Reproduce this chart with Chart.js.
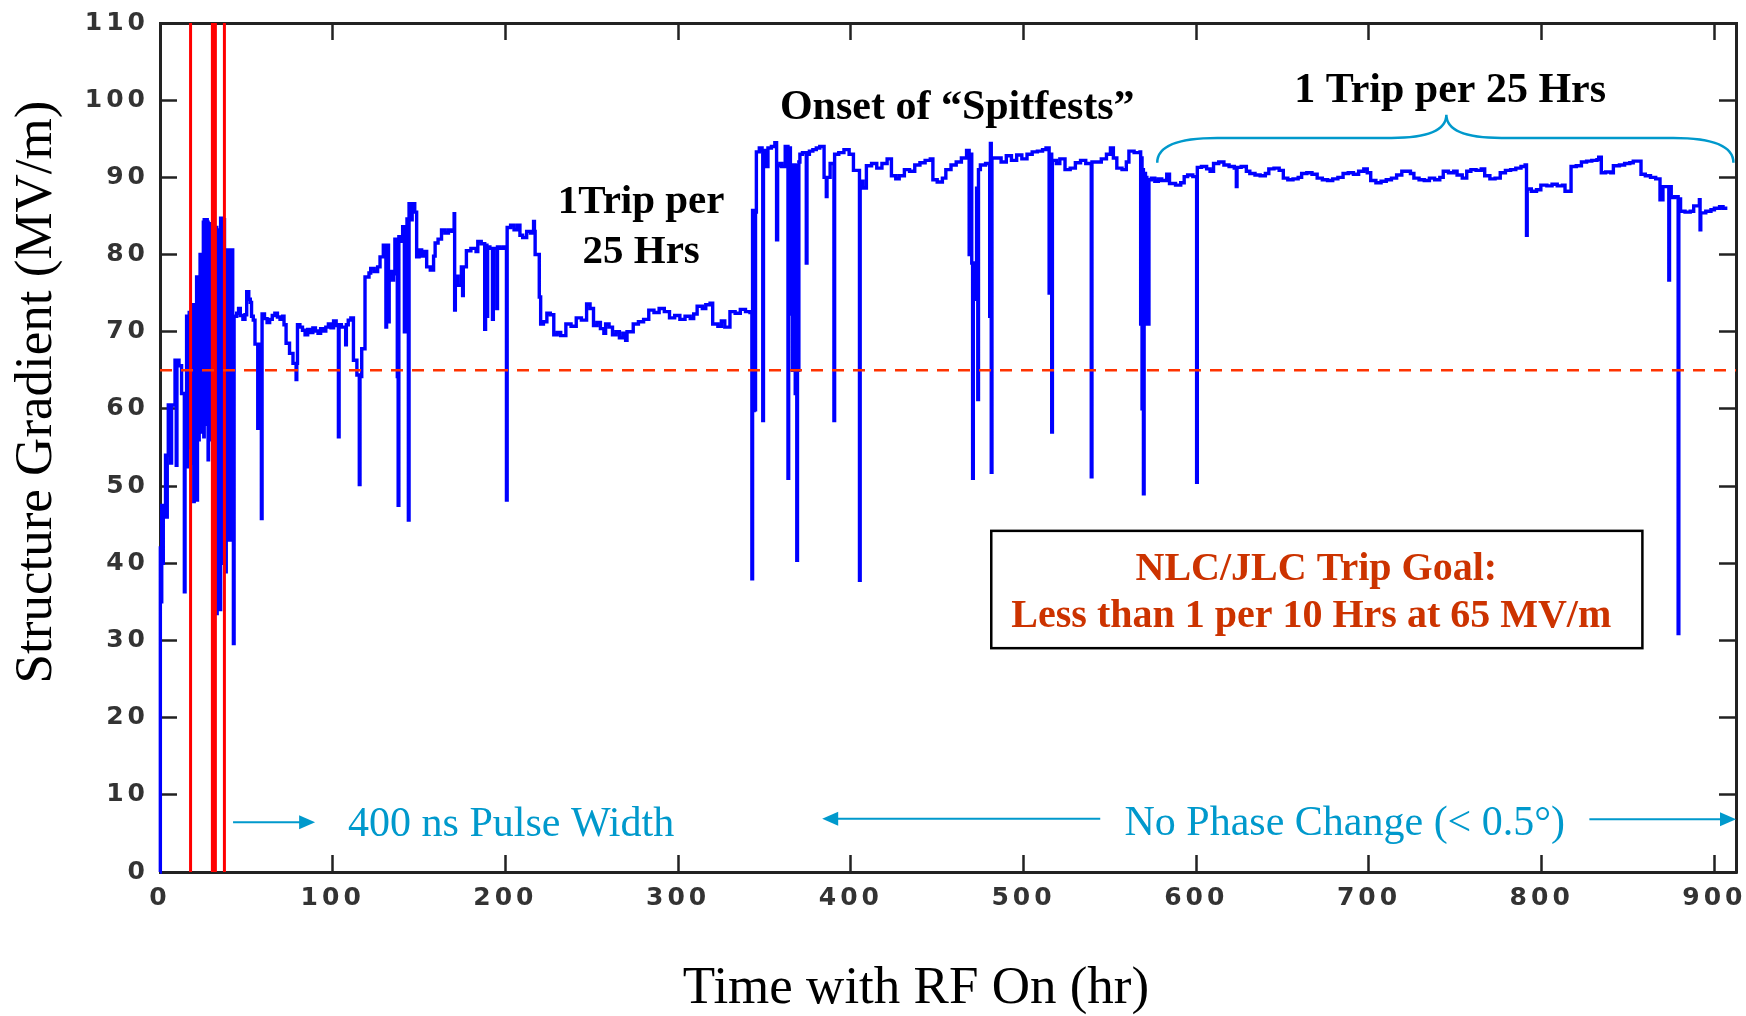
<!DOCTYPE html>
<html>
<head>
<meta charset="utf-8">
<script src="https://cdn.jsdelivr.net/npm/chart.js@4.4.0/dist/chart.umd.min.js"></script>
<style>
  html, body { margin: 0; padding: 0; background: #fff; }
</style>
</head>
<body>
<canvas id="gradChart" width="1746" height="1016"></canvas>
<script>
// axis ranges and ticks
const xTicks = [0, 100, 200, 300, 400, 500, 600, 700, 800, 900];
const yTicks = [0, 10, 20, 30, 40, 50, 60, 70, 80, 90, 100, 110];
const xMax = 912.5;
const yMax = 110;

// goal gradient (MV/m) and the hours where the red markers sit
const goalGradient = 65;
const markerHours = [17.7, 31.2, 37.3];

// [hours with RF on, structure gradient MV/m], sample-and-hold trace
const gradientTrace = [
  [0, 0], [0.2, 42], [0.6, 35], [1.0, 47.5], [1.5, 40], [1.9, 47], [2.8, 46.5],
  [3.2, 54], [3.8, 46], [4.2, 54],
  [4.8, 60.5], [6.2, 53], [6.7, 60.5],
  [8.7, 66.3], [9.4, 52.7], [9.8, 66.3], [11, 65.6],
  [12.5, 62], [14.1, 36.3], [14.5, 62],
  [15.4, 72], [15.65, 52.5], [15.9, 72], [16.15, 60], [16.4, 72], [16.65, 55], [16.9, 72.5],
  [17.15, 58], [17.4, 72.5], [17.65, 62], [17.9, 72.5], [18.15, 57],
  [18.3, 73.5], [18.55, 53], [18.8, 73.5], [19.05, 60], [19.3, 73.5], [19.55, 48], [19.8, 73.5],
  [20.05, 58], [20.3, 73.5], [20.55, 55], [20.8, 73.5],
  [21.2, 77.1], [21.45, 48.2], [21.7, 77.1], [21.95, 60], [22.2, 77.1], [22.45, 56], [22.7, 77.1],
  [23.2, 80], [23.45, 57], [23.7, 80], [23.95, 62], [24.2, 80], [24.45, 58], [24.7, 80],
  [25.1, 84.2], [25.35, 56.4], [25.6, 84.5], [25.85, 65], [26.1, 84.5], [26.35, 71], [26.6, 84.5],
  [26.85, 58], [27.1, 84.5], [27.35, 62], [27.6, 84.2], [27.85, 53.4], [28.1, 84], [28.35, 71],
  [28.6, 84], [28.85, 60], [29.1, 84],
  [29.35, 56], [29.6, 83.2], [29.85, 64], [30.1, 83.2], [30.35, 71], [30.6, 83.2], [30.85, 58],
  [31.1, 83.2], [31.35, 53.5], [31.6, 83.2], [31.85, 62], [32.1, 83.2], [32.35, 57],
  [32.6, 83.5], [32.85, 33.5], [33.1, 83.2], [33.35, 45], [33.6, 83.2], [33.85, 34], [34.1, 83.2],
  [34.35, 50], [34.6, 83.2], [34.85, 34], [35.1, 84.7], [35.35, 40], [35.6, 84.7], [35.85, 55],
  [36.1, 84.7], [36.35, 43], [36.6, 84.5], [36.85, 60], [37.1, 84.5],
  [37.35, 79.3], [37.6, 50], [37.85, 79.3], [38.1, 38.9], [38.35, 79.3], [38.6, 60], [38.85, 80.6],
  [39.1, 45], [39.35, 80.6], [39.6, 65], [39.85, 80.6], [40.1, 43], [40.35, 80.6], [40.6, 60],
  [40.85, 80.6], [41.1, 71], [41.35, 80.6], [41.6, 50], [41.85, 80.6], [42.1, 43], [42.5, 29.6], [42.9, 72],
  [44.4, 72.4], [45.5, 73], [46.5, 72.1], [48, 71.6], [49.2, 72.2],
  [50.2, 75.2], [51.4, 74.2], [52.3, 73.8], [53, 72], [54, 71.5],
  [55, 68.4], [56.6, 57.5], [57, 68.4], [58.7, 45.8], [59.1, 72.3],
  [60.5, 71.7], [62, 71.2], [63.5, 71.6], [65, 72.1], [66.5, 72.4], [68, 71.9], [69.5, 71.6], [71, 72],
  [71.8, 70.9], [73, 68.5], [75, 67.2], [77, 65.9], [78.8, 63.8], [79.2, 65.9], [79.6, 70.9],
  [81, 70.6], [82.5, 70.2], [84, 69.6], [85.5, 70.3], [87, 69.9], [88.5, 70.5], [90, 70.1],
  [91.5, 69.8], [93, 70.4], [94.5, 70.1], [96, 70.6], [97.5, 71], [99, 70.5], [100.5, 71.4], [102, 70.8],
  [103.3, 56.4], [103.7, 70.9], [105, 70.6], [107.5, 68.3], [107.9, 70.9], [109, 71.5], [110.5, 71.8],
  [112, 66.3], [114, 64.4], [115.4, 50.2], [115.8, 64.2], [116.8, 67.8],
  [118.7, 77.1], [121, 77.6], [122, 78.2], [124, 77.8], [126, 78.4], [127.4, 79.7], [129.3, 81.2],
  [130.8, 70.6], [131.2, 81.2], [132.3, 71.3], [132.7, 77.8], [134.2, 76.7], [135.2, 77.5],
  [136, 82], [137.4, 64.2], [137.9, 47.5], [138.3, 82.3], [139.5, 81.7],
  [140.5, 83.6], [141.5, 70], [141.9, 83.6], [143, 84.6], [143.8, 45.6], [144.2, 86.6], [145.5, 84.5],
  [146, 86.6], [147.5, 85.5],
  [148.6, 79.7], [150, 80.6], [151.5, 79.8], [153, 80.4], [154.4, 78.4], [156.5, 78],
  [158.4, 79.8], [159.3, 81.5], [161, 82], [163, 83.2], [165, 82.8], [167, 83.2], [169, 83],
  [170.3, 85.3], [170.6, 72.8], [171, 77.2], [172.5, 76], [174.5, 78.4], [175.2, 74.7], [175.6, 78.4],
  [177.4, 80.5], [180, 80.8], [183, 80.4], [184, 81.7], [186, 81.4],
  [188, 70.3], [188.5, 81.2], [189.3, 72], [189.7, 81], [191, 80.8], [192.5, 71.6], [193, 80.8],
  [195, 73], [195.4, 81], [197, 80.8], [199, 81],
  [200.6, 48.2], [201, 83.5], [203, 83.8], [205, 83.2], [207, 83.8],
  [208.4, 82.5], [210, 82.2], [212.3, 83], [214.5, 82.8], [216.3, 84.3], [216.8, 83],
  [217.2, 80], [219.6, 74.5], [220.4, 71], [222, 71.3], [224, 72.4], [226, 72.2],
  [228, 69.6], [230, 69.9], [232, 69.5], [235, 71], [238, 70.7], [241, 71.8], [244, 71.5],
  [247, 73.6], [249, 73], [251, 70.8], [253, 71.2], [255, 70.4], [257, 69.8], [258, 71], [260, 70.6],
  [262, 69.6], [264, 70], [266, 69.2], [268, 69.8], [269.6, 68.9], [270.4, 70],
  [274, 71], [277, 71.3], [280, 71.6], [283, 72.8], [286, 72.5], [289, 73], [292, 72.6],
  [295, 71.8], [298, 72.1], [301, 71.6], [304, 72], [307, 71.7], [309, 72.3],
  [311, 73.3], [314, 73], [316, 73.5], [318.5, 73.7], [320, 71], [323, 70.7], [325, 71.4], [327, 70.6],
  [330, 72.6], [333, 72.4], [336, 72.9], [339, 72.6], [341.6, 72.5],
  [342.7, 38], [343.1, 85.7], [343.6, 59.8], [344, 76.7], [344.4, 59.9], [344.8, 85.5],
  [345.3, 93.3], [347, 93.8], [348.6, 93.5], [349, 58.5], [349.4, 93.5], [350.5, 91.4], [352, 93.8],
  [354, 94], [356, 94.5], [357, 81.9], [357.6, 91.5], [359, 91.8], [360, 91.4],
  [362, 94], [363.6, 51], [364, 93.8], [365, 85], [365.4, 72.3], [365.8, 91.6], [366.2, 65],
  [366.6, 91], [367, 72], [367.4, 91.6], [367.8, 62], [368.2, 91.5], [368.7, 40.4], [369.1, 91.5],
  [369.5, 65], [369.9, 92], [370.5, 93], [372, 93.2], [374.2, 78.9], [374.6, 93], [376, 93.4],
  [378, 93.6], [380, 93.8], [382, 94], [384.5, 90], [385.8, 87.5], [386.2, 90], [388, 91.8],
  [390.2, 58.5], [390.6, 93], [393, 93.2], [396, 93.6], [399, 93], [401.5, 90.9],
  [405, 37.8], [405.4, 89.5], [407, 88.6], [409, 91.5], [412, 91.8], [415, 91.2], [418, 91.8],
  [421, 92.4], [423.5, 90.2], [426, 89.8], [428, 90.2], [431, 91], [434, 90.8], [437, 91.6],
  [440, 91.9], [443, 92.2], [446, 92.4], [447.5, 89.7], [450, 89.4], [453, 89.9], [455, 91],
  [458, 91.6], [461, 92], [464, 92.5], [467, 93.5], [468.5, 80], [469.3, 93], [470, 78.9],
  [470.5, 51], [470.9, 74.2], [471.3, 78.9], [471.7, 74.2], [472.1, 78.9], [472.8, 88.6],
  [473.5, 61.2], [473.9, 91], [475, 91.6], [478, 91.8], [480.4, 72], [480.8, 94.4], [481.3, 51.8],
  [481.7, 92.5], [484, 92.5], [487, 92], [490, 92.8], [493, 92.2], [496, 92.9], [499, 92.4],
  [502, 93], [505, 93.3], [508, 93.4], [511, 93.6], [513, 93.8], [514.8, 75], [515.2, 93],
  [516.3, 57], [516.7, 92.2], [519, 91.8], [521, 92.4], [524, 91], [527, 91.2], [530, 91.9],
  [533, 92.2], [536, 91.8], [539.2, 51.2], [539.6, 92], [542, 92], [545, 92.4], [548, 93],
  [550.3, 93.8], [552, 92.5], [554, 91.2], [557, 91], [559.5, 92], [561, 93.4], [564, 93.2],
  [567.4, 93.3], [567.8, 71], [568.2, 92.5], [568.6, 60], [569, 91], [569.4, 49], [569.8, 71],
  [570.2, 90.5], [570.6, 71], [571, 90], [571.4, 71.5], [571.8, 89.7], [572.2, 71], [572.6, 89.7],
  [574, 89.9], [576, 89.5], [578, 89.8], [580, 89.6], [582.9, 90.4], [584.5, 89.2], [588, 89],
  [591, 89.3], [593, 90.1], [595, 90.3], [598, 90.1], [600.2, 50.5], [600.6, 91.3], [603, 91.4],
  [606, 91.1], [608, 90.8], [610, 91.8], [613, 92], [616, 91.6], [619, 91.4], [622, 91.2],
  [623.2, 88.8], [623.6, 91.3], [626, 91.4], [629, 90.8], [631, 90.5], [634, 90.3], [637, 90.2],
  [640, 90.5], [642, 91.1], [645, 91.2], [648, 90.9], [650.4, 89.9], [653, 89.7], [656, 89.8],
  [659, 90], [661, 90.5], [664, 90.6], [667, 90.4], [670, 89.9], [673, 89.7], [676, 89.6],
  [679, 89.8], [682, 90], [685, 90.5], [688, 90.6], [691, 90.4], [694, 90.8], [697, 91.1],
  [699, 90.6], [701, 89.6], [704, 89.3], [707, 89.5], [710, 89.7], [713, 89.9], [716, 90.3],
  [719, 90.8], [722, 90.8], [724, 90.5], [726, 89.9], [729, 89.7], [732, 89.6], [735, 89.9],
  [738, 89.7], [741, 90], [743, 90.8], [746, 90.6], [749, 90.8], [751, 90.3], [754, 89.9],
  [756.6, 90.8], [759, 91], [762, 90.9], [765, 91.1], [767, 90.2], [770, 89.8], [773, 89.9],
  [776, 90.6], [779, 90.9], [782, 91], [785, 91.2], [788, 91.4], [790.4, 91.6], [791.2, 82.5],
  [791.6, 88.5], [794, 88.2], [797, 88.4], [799.5, 89], [803, 88.9], [806, 89.1], [809, 88.9],
  [812, 89], [813.5, 88.2], [816.4, 88.2], [817, 91.4], [820, 91.5], [823, 92], [826, 92.1],
  [829, 92.2], [832, 92.3], [833, 92.6], [834.5, 90.6], [837, 90.7], [840, 90.6], [841.5, 91.5],
  [845, 91.6], [848, 91.8], [851, 91.9], [853, 92.1], [857.5, 90.4], [860, 90.2], [863, 90],
  [866, 89.8], [868.5, 87.1], [870.2, 88.8], [873.6, 76.7], [874, 88.8], [875, 87.4], [877, 87.5],
  [879, 30.9], [879.4, 87.2], [880.4, 85.6], [883, 85.5], [886, 85.6], [888, 86.3], [891.3, 87.1],
  [891.7, 83.2], [892.1, 85.4], [895, 85.6], [898, 85.8], [900, 86], [903, 86.2], [905, 86], [907.5, 86]
];

const serif = '"Liberation Serif", "Times New Roman", serif';
const tickFont = { family: '"DejaVu Sans", sans-serif', size: 25, weight: 'bold' };
const cyan = '#0099cc';

const toXY = pts => pts.map(([x, y]) => ({ x, y }));

const markerSets = markerHours.map((h, i) => ({
  data: toXY([[h, 0], [h, yMax]]),
  borderColor: '#ff0000',
  borderWidth: i === 1 ? 6 : 3,
  pointRadius: 0,
  order: 0
}));

// letter spacing for the wide tick digits, reset before the annotations
const spacingPlugin = {
  id: 'spacing',
  beforeDraw(chart) { chart.ctx.letterSpacing = '4px'; }
};

function drawArrow(ctx, x1, x2, y, color) {
  const dir = Math.sign(x2 - x1);
  ctx.strokeStyle = color;
  ctx.fillStyle = color;
  ctx.lineWidth = 2;
  ctx.beginPath();
  ctx.moveTo(x1, y);
  ctx.lineTo(x2 - dir * 14, y);
  ctx.stroke();
  ctx.beginPath();
  ctx.moveTo(x2, y);
  ctx.lineTo(x2 - dir * 16, y - 7);
  ctx.lineTo(x2 - dir * 16, y + 7);
  ctx.closePath();
  ctx.fill();
}

const notesPlugin = {
  id: 'notes',
  afterDraw(chart) {
    const ctx = chart.ctx;
    const xs = chart.scales.x, ys = chart.scales.y;
    const X = v => xs.getPixelForValue(v);
    const Y = v => ys.getPixelForValue(v);
    ctx.save();
    ctx.letterSpacing = '0px';
    ctx.textBaseline = 'alphabetic';
    ctx.textAlign = 'center';

    // axis titles
    ctx.fillStyle = '#000';
    ctx.font = '53px ' + serif;
    ctx.fillText('Time with RF On (hr)', 916, 1003);
    ctx.save();
    ctx.translate(51, 392);
    ctx.rotate(-Math.PI / 2);
    ctx.fillText('Structure Gradient (MV/m)', 0, 0);
    ctx.restore();

    // bold black labels
    ctx.font = 'bold 41px ' + serif;
    ctx.fillText('1Trip per', X(278.6), Y(85.4));
    ctx.fillText('25 Hrs', X(278.6), Y(78.9));
    ctx.font = 'bold 42px ' + serif;
    ctx.fillText('Onset of \u201CSpitfests\u201D', X(461.6), Y(97.5));
    ctx.fillText('1 Trip per 25 Hrs', X(747), Y(99.7));

    // brace under "1 Trip per 25 Hrs"
    const bl = X(577.4), br = X(911), bp = X(744.8);
    const be = Y(91.9), bh = Y(95.1), bt = Y(98.1);
    ctx.strokeStyle = cyan;
    ctx.lineWidth = 2.5;
    ctx.beginPath();
    ctx.moveTo(bl, be);
    ctx.quadraticCurveTo(bl, bh, bl + 60, bh);
    ctx.lineTo(bp - 55, bh);
    ctx.quadraticCurveTo(bp, bh, bp, bt);
    ctx.quadraticCurveTo(bp, bh, bp + 55, bh);
    ctx.lineTo(br - 60, bh);
    ctx.quadraticCurveTo(br, bh, br, be);
    ctx.stroke();

    // goal box
    const gx1 = X(481.3), gx2 = X(858.3), gy1 = Y(44.2), gy2 = Y(29.0);
    ctx.fillStyle = '#fff';
    ctx.fillRect(gx1, gy1, gx2 - gx1, gy2 - gy1);
    ctx.strokeStyle = '#000';
    ctx.lineWidth = 2.5;
    ctx.strokeRect(gx1, gy1, gx2 - gx1, gy2 - gy1);
    ctx.fillStyle = '#cc3300';
    ctx.font = 'bold 40px ' + serif;
    ctx.fillText('NLC/JLC Trip Goal:', X(669.5), Y(37.8));
    ctx.fillText('Less than 1 per 10 Hrs at 65 MV/m', X(666.6), Y(31.7));

    // pulse width / phase notes with arrows
    ctx.fillStyle = cyan;
    ctx.font = '42px ' + serif;
    ctx.fillText('400 ns Pulse Width', X(203.3), Y(4.6));
    ctx.fillText('No Phase Change (< 0.5\u00B0)', X(686), Y(4.75));
    drawArrow(ctx, X(42.3), X(89.8), Y(6.45), cyan);
    drawArrow(ctx, X(544.4), X(383.4), Y(6.9), cyan);
    drawArrow(ctx, X(827.6), X(912.5), Y(6.83), cyan);
    ctx.restore();
  }
};

function axisGrid() {
  return { drawOnChartArea: false, drawTicks: true, tickLength: -17, tickWidth: 2.5, tickColor: '#222' };
}
const axisBorder = { display: true, color: '#222', width: 3 };

// fix each axis box size and drop the label overflow padding
function fixSize(prop, size) {
  return s => {
    s[prop] = size;
    s.paddingLeft = s.paddingRight = s.paddingTop = s.paddingBottom = 0;
  };
}

new Chart(document.getElementById('gradChart'), {
  type: 'line',
  data: {
    datasets: [
      {
        data: toXY([[0, goalGradient], [xMax, goalGradient]]),
        borderColor: '#ff3300',
        borderWidth: 2.5,
        borderDash: [12, 9],
        pointRadius: 0,
        order: 0
      },
      ...markerSets,
      {
        data: toXY(gradientTrace),
        borderColor: '#0000ff',
        borderWidth: 3.4,
        stepped: 'before',
        pointRadius: 0,
        clip: false,
        order: 1
      }
    ]
  },
  options: {
    responsive: false,
    animation: false,
    events: [],
    layout: { padding: 0, autoPadding: false },
    plugins: { legend: { display: false }, tooltip: { enabled: false } },
    scales: {
      x: {
        type: 'linear', position: 'bottom', min: 0, max: xMax,
        afterFit: fixSize('height', 144),
        afterBuildTicks: s => { s.ticks = xTicks.map(v => ({ value: v })); },
        ticks: { font: tickFont, color: '#333', padding: 28, maxRotation: 0, autoSkip: false },
        grid: axisGrid(),
        border: axisBorder
      },
      x2: {
        type: 'linear', position: 'top', min: 0, max: xMax,
        afterFit: fixSize('height', 23),
        afterBuildTicks: s => { s.ticks = xTicks.map(v => ({ value: v })); },
        ticks: { display: false },
        grid: axisGrid(),
        border: axisBorder
      },
      y: {
        type: 'linear', position: 'left', min: 0, max: yMax,
        afterFit: fixSize('width', 160),
        afterBuildTicks: s => { s.ticks = yTicks.map(v => ({ value: v })); },
        ticks: { font: tickFont, color: '#333', padding: 28 },
        grid: axisGrid(),
        border: axisBorder
      },
      y2: {
        type: 'linear', position: 'right', min: 0, max: yMax,
        afterFit: fixSize('width', 10),
        afterBuildTicks: s => { s.ticks = yTicks.map(v => ({ value: v })); },
        ticks: { display: false },
        grid: axisGrid(),
        border: axisBorder
      }
    }
  },
  plugins: [spacingPlugin, notesPlugin]
});
</script>
</body>
</html>
